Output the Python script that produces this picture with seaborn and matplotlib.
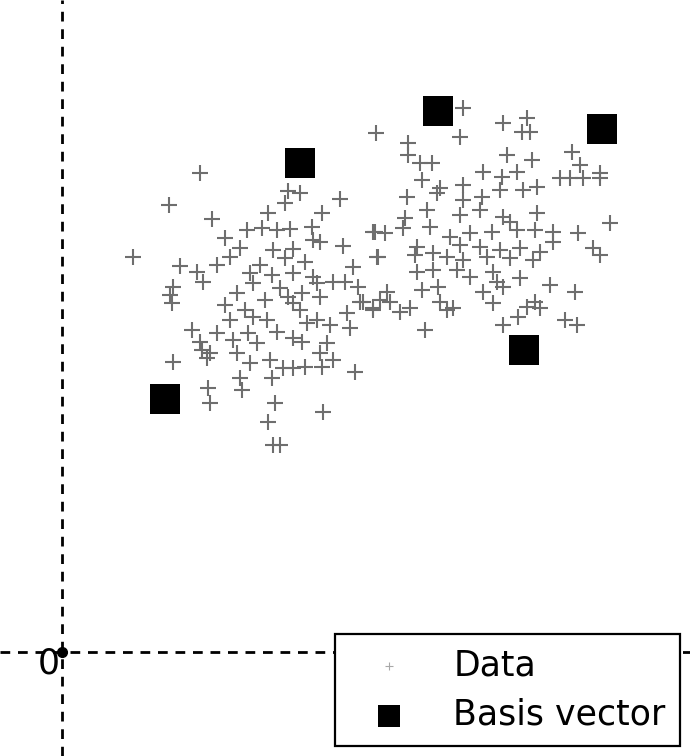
import pandas as pd
import seaborn as sns
import matplotlib.pyplot as plt

# data points (two clusters), units relative to origin
data_x = [138, 107, 150, 71, 118, 226, 238, 223, 278, 206, 260, 185, 200, 215, 228, 250, 313, 163,
          251, 258, 281, 178, 211, 231, 315, 155, 168, 188, 135, 210, 231, 251, 255, 271, 283, 291,
          296, 141, 111, 108, 110, 175, 191, 218, 226, 240, 258, 298, 311, 285, 168, 191, 205, 215,
          231, 245, 255, 288, 130, 155, 186, 138, 171, 195, 231, 240, 265, 140, 148, 175, 258, 271,
          111, 145, 188, 208, 221, 231, 243, 260, 293, 178, 210, 146, 180, 148, 213, 261, 206, 211,
          218, 198, 223, 243, 203, 183, 163, 238, 268,
          401, 314, 398, 441, 460, 468, 465, 346, 346, 358, 370, 445, 470, 510, 518, 498, 508, 521,
          538, 538, 421, 440, 455, 360, 378, 401, 345, 375, 401, 420, 438, 461, 475, 365, 398, 418,
          441, 448, 475, 343, 341, 368, 311, 323, 388, 408, 430, 455, 473, 491, 491, 516, 548, 355,
          398, 418, 438, 458, 478, 531, 538, 316, 353, 371, 385, 401, 425, 448, 471, 355, 371, 395,
          408, 431, 458, 435, 488, 360, 376, 441, 421, 513, 325, 318, 301, 328, 378, 431, 473, 478,
          465, 311, 338, 348, 385, 391, 456, 441, 363, 503, 515]
data_y = [479, 447, 433, 395, 386, 461, 459, 449, 453, 439, 439, 422, 424, 422, 423, 425, 420, 414,
          412, 410, 406, 404, 402, 403, 395, 387, 395, 379, 380, 377, 379, 375, 369, 370, 370, 385,
          365, 370, 365, 357, 349, 359, 369, 364, 355, 359, 355, 350, 344, 339, 332, 335, 332, 320,
          349, 329, 332, 324, 322, 319, 319, 310, 312, 309, 314, 310, 309, 302, 299, 299, 299, 292,
          290, 294, 289, 292, 284, 284, 285, 285, 280, 274, 274, 264, 262, 249, 249, 240, 230, 207,
          207, 387, 394, 390, 352, 342, 347, 342, 327,
          544, 519, 515, 529, 520, 520, 534, 509, 497, 489, 489, 497, 492, 500, 487, 474, 474, 474,
          479, 474, 480, 475, 480, 472, 464, 467, 455, 459, 452, 455, 462, 462, 465, 442, 437, 442,
          435, 430, 439, 434, 424, 425, 420, 419, 415, 419, 420, 422, 422, 420, 410, 419, 429, 405,
          407, 405, 402, 404, 400, 404, 397, 395, 397, 399, 395, 392, 395, 394, 392, 380, 382, 382,
          375, 380, 374, 370, 367, 362, 365, 365, 360, 360, 360, 352, 350, 350, 350, 349, 350, 344,
          345, 342, 340, 344, 342, 344, 335, 327, 322, 332, 327]

# basis vectors
basis_x = [103, 238, 376, 540, 462]
basis_y = [253, 489, 541, 523, 302]

df = pd.DataFrame({'x': data_x, 'y': data_y})
df_b = pd.DataFrame({'x': basis_x, 'y': basis_y})

sns.set_style('white')
plt.rcParams['font.family'] = ['DejaVu Sans']

fig = plt.figure(figsize=(6.9, 7.56), dpi=100)
ax = fig.add_axes([0, 0, 1, 1])

ax.axvline(0, color='black', ls=(0, (3.5, 2.8)), lw=2.0, zorder=1)
ax.axhline(0, color='black', ls=(0, (3.5, 2.8)), lw=2.0, zorder=1)

sns.scatterplot(x='x', y='y', data=df, marker='+', s=130, color='#6e6e6e',
                linewidth=1.5, label='Data', ax=ax, zorder=2)
sns.scatterplot(x='x', y='y', data=df_b, marker='s', s=470, color='black',
                linewidth=0, label='Basis vector', ax=ax, zorder=3)

ax.plot([0], [0], 'o', color='black', ms=7, zorder=4)
ax.text(-13, -12, '0', fontsize=25, ha='center', va='center', color='black')

ax.set_xlim(-62, 628)
ax.set_ylim(-104, 652)
ax.set_xlabel('')
ax.set_ylabel('')
ax.set_xticks([])
ax.set_yticks([])
for sp in ax.spines.values():
    sp.set_visible(False)

leg = ax.legend(loc='lower right', fontsize=25, frameon=True, fancybox=False,
                framealpha=1, edgecolor='black', borderaxespad=0.3,
                handletextpad=0.7, borderpad=0.4, labelspacing=0.45,
                handlelength=2.3)
leg.get_frame().set_linewidth(1.6)
leg.set_zorder(10)
for t in leg.get_texts():
    t.set_color('black')
leg.legend_handles[0].set_sizes([40])
leg.legend_handles[0].set_linewidth(0.8)
leg.legend_handles[0].set_alpha(0.6)
leg.legend_handles[1].set_sizes([260])

plt.savefig('out.png', dpi=100)
